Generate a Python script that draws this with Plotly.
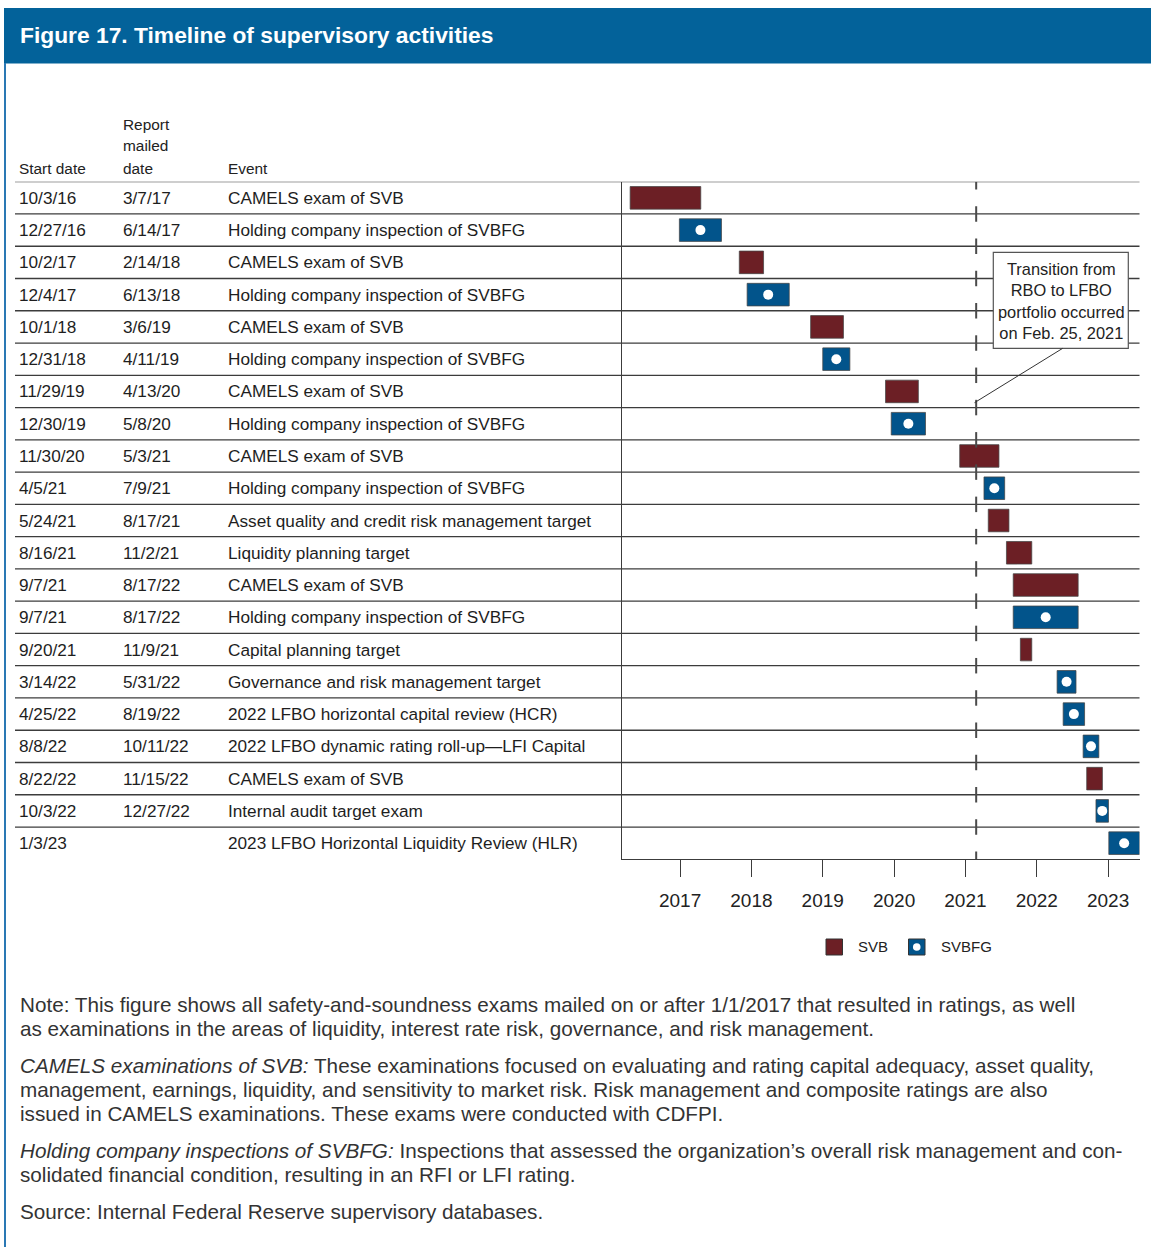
import plotly.graph_objects as go

W, H = 1151, 1247
FONT = "Liberation Sans, Arial, sans-serif"

# ---------------- data ----------------
start_dates = ["10/3/16", "12/27/16", "10/2/17", "12/4/17", "10/1/18", "12/31/18", "11/29/19",
               "12/30/19", "11/30/20", "4/5/21", "5/24/21", "8/16/21", "9/7/21", "9/7/21",
               "9/20/21", "3/14/22", "4/25/22", "8/8/22", "8/22/22", "10/3/22", "1/3/23"]
mailed_dates = ["3/7/17", "6/14/17", "2/14/18", "6/13/18", "3/6/19", "4/11/19", "4/13/20",
                "5/8/20", "5/3/21", "7/9/21", "8/17/21", "11/2/21", "8/17/22", "8/17/22",
                "11/9/21", "5/31/22", "8/19/22", "10/11/22", "11/15/22", "12/27/22", ""]
events = ["CAMELS exam of SVB", "Holding company inspection of SVBFG", "CAMELS exam of SVB",
          "Holding company inspection of SVBFG", "CAMELS exam of SVB",
          "Holding company inspection of SVBFG", "CAMELS exam of SVB",
          "Holding company inspection of SVBFG", "CAMELS exam of SVB",
          "Holding company inspection of SVBFG", "Asset quality and credit risk management target",
          "Liquidity planning target", "CAMELS exam of SVB", "Holding company inspection of SVBFG",
          "Capital planning target", "Governance and risk management target",
          "2022 LFBO horizontal capital review (HCR)",
          "2022 LFBO dynamic rating roll-up\u2014LFI Capital", "CAMELS exam of SVB",
          "Internal audit target exam", "2023 LFBO Horizontal Liquidity Review (HLR)"]
entity = ["SVB", "SVBFG", "SVB", "SVBFG", "SVB", "SVBFG", "SVB", "SVBFG", "SVB", "SVBFG",
          "SVB", "SVB", "SVB", "SVBFG", "SVB", "SVBFG", "SVBFG", "SVBFG", "SVB", "SVBFG", "SVBFG"]
# bar extents as drawn in the chart (decimal years)
bar_start = [2016.30, 2016.99, 2017.83, 2017.94, 2018.83, 2019.00, 2019.88, 2019.96, 2020.92,
             2021.26, 2021.32, 2021.575, 2021.67, 2021.67, 2021.77, 2022.285, 2022.37, 2022.65,
             2022.70, 2022.83, 2023.01]
bar_end = [2017.29, 2017.58, 2018.17, 2018.53, 2019.29, 2019.38, 2020.34, 2020.44, 2021.47,
           2021.55, 2021.61, 2021.93, 2022.58, 2022.58, 2021.93, 2022.55, 2022.67, 2022.87,
           2022.92, 2023.005, 2023.44]
year_ticks = [2017, 2018, 2019, 2020, 2021, 2022, 2023]
transition = 2021 + 55 / 365  # Feb. 25, 2021
x_range = [2016.19, 2023.44]

colors = {"SVB": "#6c1f25", "SVBFG": "#02548b"}
n = len(events)
rows = [i + 0.5 for i in range(n)]


def px(x):
    return x / W


def py(y):
    return 1 - y / H


fig = go.Figure()
for ent in ["SVB", "SVBFG"]:
    idx = [i for i in range(n) if entity[i] == ent]
    fig.add_trace(go.Bar(
        orientation="h",
        y=[rows[i] for i in idx],
        base=[bar_start[i] for i in idx],
        x=[bar_end[i] - bar_start[i] for i in idx],
        width=0.7,
        marker=dict(color=colors[ent], line=dict(color="rgba(70,70,70,0.75)", width=1)),
        showlegend=False, hoverinfo="skip",
    ))
idx = [i for i in range(n) if entity[i] == "SVBFG"]
fig.add_trace(go.Scatter(
    x=[(bar_start[i] + bar_end[i]) / 2 for i in idx],
    y=[rows[i] for i in idx],
    mode="markers",
    marker=dict(color="white", size=10, line=dict(width=0)),
    showlegend=False, hoverinfo="skip", cliponaxis=False,
))

shapes = []
annotations = []

# header band and left border
shapes.append(dict(type="rect", xref="paper", yref="paper", x0=px(4), x1=1, y0=py(63.5), y1=py(8),
                   fillcolor="#03629a", line=dict(width=0), layer="below"))
shapes.append(dict(type="line", xref="paper", yref="paper", x0=px(5), x1=px(5), y0=py(63), y1=0,
                   line=dict(color="#2a78b4", width=2), layer="below"))
annotations.append(dict(text="<b>Figure 17. Timeline of supervisory activities</b>", xref="paper",
                        yref="paper", x=px(18), y=py(35), xanchor="left", yanchor="middle",
                        showarrow=False, font=dict(family=FONT, size=22.8, color="white")))

# table header
for txt, x, y in [("Start date", 17, 168), ("Report", 121, 124), ("mailed", 121, 146),
                  ("date", 121, 168), ("Event", 226, 168)]:
    annotations.append(dict(text=txt, xref="paper", yref="paper", x=px(x), y=py(y),
                            xanchor="left", yanchor="middle", showarrow=False,
                            font=dict(family=FONT, size=15.4, color="#222")))

# table rows
for i in range(n):
    for txt, x in [(start_dates[i], 17), (mailed_dates[i], 121), (events[i], 226)]:
        if not txt:
            continue
        annotations.append(dict(text=txt, xref="paper", yref="y", x=px(x), y=rows[i],
                                xanchor="left", yanchor="middle", showarrow=False,
                                font=dict(family=FONT, size=17.2, color="#1e1e1e")))

# row separators
for k in range(0, n):
    shapes.append(dict(type="line", xref="paper", yref="y", x0=px(15), x1=px(1139.5), y0=k, y1=k,
                       line=dict(color="#3c3c3c", width=1.3), layer="below"))

# dashed transition marker (dashes centred on each row line)
for k in range(0, n + 1):
    y0, y1 = max(0, k - 0.24), min(n, k + 0.24)
    shapes.append(dict(type="line", xref="x", yref="y", x0=transition, x1=transition, y0=y0, y1=y1,
                       line=dict(color="#4a4a4a", width=2), layer="above"))

# callout
shapes.append(dict(type="rect", xref="paper", yref="paper", x0=px(993.3), x1=px(1128.3),
                   y0=py(348.3), y1=py(252.3), fillcolor="white",
                   line=dict(color="#555", width=1.2), layer="above"))
shapes.append(dict(type="line", xref="paper", yref="paper", x0=px(1062.7), y0=py(348.3),
                   x1=px(974.5), y1=py(402.7), line=dict(color="#333", width=1)))
annotations.append(dict(text="Transition from<br>RBO to LFBO<br>portfolio occurred<br>on Feb. 25, 2021",
                        xref="paper", yref="paper", x=px(1061), y=py(300.5), xanchor="center",
                        yanchor="middle", showarrow=False, align="center",
                        font=dict(family=FONT, size=16.4, color="#222")))

# legend
for ent, x0, tx in [("SVB", 826, 856), ("SVBFG", 908.5, 939)]:
    shapes.append(dict(type="rect", xref="paper", yref="paper", x0=px(x0), x1=px(x0 + 16.5),
                       y0=py(955), y1=py(939), fillcolor=colors[ent],
                       line=dict(color="#333", width=1)))
    if ent == "SVBFG":
        cx, cy = x0 + 8.25, 947
        shapes.append(dict(type="circle", xref="paper", yref="paper", x0=px(cx - 3.8),
                           x1=px(cx + 3.8), y0=py(cy + 3.8), y1=py(cy - 3.8),
                           fillcolor="white", line=dict(width=0)))
    annotations.append(dict(text=ent, xref="paper", yref="paper", x=px(tx), y=py(947),
                            xanchor="left", yanchor="middle", showarrow=False,
                            font=dict(family=FONT, size=15, color="#222")))

# notes
notes = [
    ("Note: This figure shows all safety-and-soundness exams mailed on or after 1/1/2017 that resulted in ratings, as well", 1004),
    ("as examinations in the areas of liquidity, interest rate risk, governance, and risk management.", 1028),
    ("<i>CAMELS examinations of SVB:</i> These examinations focused on evaluating and rating capital adequacy, asset quality,", 1065),
    ("management, earnings, liquidity, and sensitivity to market risk. Risk management and composite ratings are also", 1089),
    ("issued in CAMELS examinations. These exams were conducted with CDFPI.", 1113),
    ("<i>Holding company inspections of SVBFG:</i> Inspections that assessed the organization\u2019s overall risk management and con-", 1150),
    ("solidated financial condition, resulting in an RFI or LFI rating.", 1174),
    ("Source: Internal Federal Reserve supervisory databases.", 1211),
]
for txt, y in notes:
    annotations.append(dict(text=txt, xref="paper", yref="paper", x=px(18), y=py(y),
                            xanchor="left", yanchor="middle", showarrow=False,
                            font=dict(family=FONT, size=20.7, color="#333")))

fig.update_layout(
    width=W, height=H,
    margin=dict(l=0, r=0, t=0, b=0),
    paper_bgcolor="white", plot_bgcolor="white",
    barmode="overlay",
    shapes=shapes, annotations=annotations,
    xaxis=dict(domain=[px(622.3), px(1139.5)], range=x_range, showgrid=False, zeroline=False,
               showline=True, linecolor="#3c3c3c", linewidth=1.3,
               tickmode="array", tickvals=year_ticks, ticktext=[str(v) for v in year_ticks],
               ticks="outside", ticklen=17, tickwidth=1.3, tickcolor="#3c3c3c",
               ticklabelstandoff=7,
               tickfont=dict(family=FONT, size=19, color="#222")),
    yaxis=dict(domain=[py(859.3), py(181.7)], range=[n, 0], showgrid=False, zeroline=False,
               showline=True, linecolor="#3c3c3c", linewidth=1.3, showticklabels=False,
               ticks=""),
)

fig.write_html("out.html", config={"displayModeBar": False},
               post_script="document.body.style.margin='0';")
